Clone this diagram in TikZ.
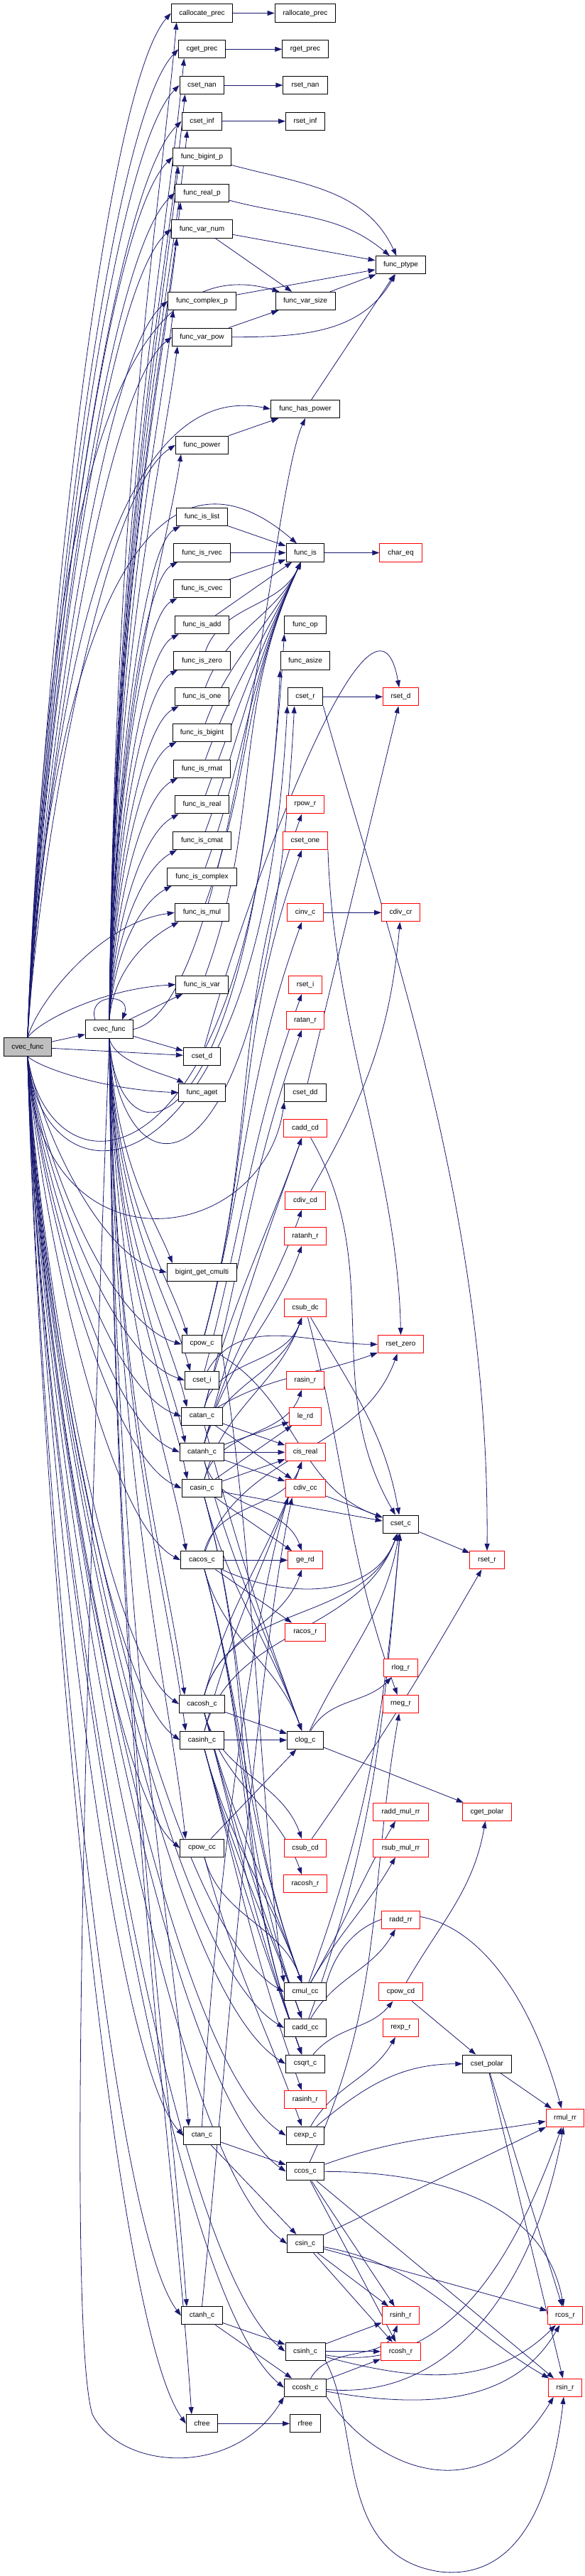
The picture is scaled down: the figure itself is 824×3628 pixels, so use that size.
\documentclass[tikz,border=0pt]{standalone}
\usepackage{fontspec}
\setmainfont{Liberation Sans}
\usetikzlibrary{arrows.meta,calc}
\pgfdeclarelayer{bg}
\pgfsetlayers{bg,main}
\definecolor{ecol}{HTML}{191970}
\definecolor{rcol}{HTML}{FF0000}
\definecolor{gcol}{HTML}{BFBFBF}
\tikzset{
 nd/.style={draw=black, line width=1pt, fill=white, minimum height=25.3pt, inner sep=0pt, font=\fontsize{10}{12}\selectfont, text=black},
 rnd/.style={nd, draw=rcol},
 edg/.style={draw=ecol, line width=0.8pt, -{Triangle[length=10pt,width=7pt]}},
 eu/.style={out=75,in=250},
 ed/.style={out=-75,in=110},
}
\newcommand\edgeRU[1]{\draw[edg] let \p1=(R.north), \p2=(#1.west) in (\p1) .. controls (\x1+15pt, {\y1+0.3*(\y2-(\y1))}) and ({\x2-0.5*(\x2-(\x1))}, {\y2-0.08*(\y2-(\y1))}) .. (\p2);}
\newcommand\edgeVU[1]{\draw[edg] let \p1=(V.north), \p2=($(#1.south west)+(8,0)$) in (\p1) .. controls (\x1+8pt, {\y1+0.55*(\y2-(\y1))}) and (\x2-25pt, {\y2-0.2*(\y2-(\y1))}) .. (\p2);}
\newcommand\edgeVB[1]{\draw[edg] let \p1=(V.north), \p2=($(#1.south west)+(6,0)$) in (\p1) .. controls (\x1+5pt, {\y1+0.45*(\y2-(\y1))}) and ({\x2-0.55*(\x2-(\x1))}, {\y2-0.3*(\x2-(\x1))}) .. (\p2);}
\newcommand\edgeRD[1]{\draw[edg] let \p1=(R.south), \p2=(#1.west) in (\p1) .. controls (\x1+15pt, {\y1-0.3*((\y1)-(\y2))}) and ({\x2-0.5*(\x2-(\x1))}, {\y2+0.08*((\y1)-(\y2))}) .. (\p2);}
\newcommand\edgeVD[1]{\draw[edg] let \p1=(V.south), \p2=($(#1.north west)+(8,0)$) in (\p1) .. controls (\x1+8pt, {\y1-0.55*((\y1)-(\y2))}) and (\x2-25pt, {\y2+0.2*((\y1)-(\y2))}) .. (\p2);}
\begin{document}
\begin{tikzpicture}[x=1pt,y=-1pt]
\useasboundingbox (0,0) rectangle (824,3628);
% ---------- nodes ----------
\node[nd,minimum width=86.6] (callocateprec) at (284.5,18.5) {callocate\_prec};
\node[nd,minimum width=85.6] (rallocateprec) at (430,18.5) {rallocate\_prec};
\node[nd,minimum width=65.5] (cgetprec) at (284.5,69.3) {cget\_prec};
\node[nd,minimum width=64.4] (rgetprec) at (430,69.3) {rget\_prec};
\node[nd,minimum width=62.9] (csetnan) at (284.5,120) {cset\_nan};
\node[nd,minimum width=62.3] (rsetnan) at (430,120) {rset\_nan};
\node[nd,minimum width=56.5] (csetinf) at (284.5,170.7) {cset\_inf};
\node[nd,minimum width=54.9] (rsetinf) at (430,170.7) {rset\_inf};
\node[nd,minimum width=81.9] (funcbigintp) at (284.5,221.3) {func\_bigint\_p};
\node[nd,minimum width=75.5] (funcrealp) at (284.5,271.8) {func\_real\_p};
\node[nd,minimum width=85.6] (funcvarnum) at (284.5,322.5) {func\_var\_num};
\node[nd,minimum width=70.8] (funcptype) at (564.5,373.3) {func\_ptype};
\node[nd,minimum width=95.6] (funccomplexp) at (284.5,424) {func\_complex\_p};
\node[nd,minimum width=84] (funcvarsize) at (430,424) {func\_var\_size};
\node[nd,minimum width=84] (funcvarpow) at (284.5,474.7) {func\_var\_pow};
\node[nd,minimum width=97.2] (funchaspower) at (430,576) {func\_has\_power};
\node[nd,minimum width=74] (funcpower) at (284.5,626.7) {func\_power};
\node[nd,minimum width=72.4] (funcislist) at (284.5,728) {func\_is\_list};
\node[nd,minimum width=79.8] (funcisrvec) at (284.5,778.5) {func\_is\_rvec};
\node[nd,minimum width=53.9] (funcis) at (430,778.5) {func\_is};
\node[rnd,minimum width=59.2] (chareq) at (564.5,778.5) {char\_eq};
\node[nd,minimum width=80.8] (funciscvec) at (284.5,829.3) {func\_is\_cvec};
\node[nd,minimum width=76.6] (funcisadd) at (284.5,880) {func\_is\_add};
\node[nd,minimum width=58.1] (funcop) at (430,880) {func\_op};
\node[nd,minimum width=79.8] (funciszero) at (284.5,930.5) {func\_is\_zero};
\node[nd,minimum width=69.7] (funcasize) at (430,930.5) {func\_asize};
\node[nd,minimum width=76.6] (funcisone) at (284.5,981.3) {func\_is\_one};
\node[nd,minimum width=49.7] (csetr) at (430,981.3) {cset\_r};
\node[rnd,minimum width=49.7] (rsetd) at (564.5,981.3) {rset\_d};
\node[nd,minimum width=82.9] (funcisbigint) at (284.5,1031.8) {func\_is\_bigint};
\node[nd,minimum width=79.8] (funcisrmat) at (284.5,1082.7) {func\_is\_rmat};
\node[nd,minimum width=76.6] (funcisreal) at (284.5,1133.3) {func\_is\_real};
\node[rnd,minimum width=52.8] (rpowr) at (430,1133.3) {rpow\_r};
\node[nd,minimum width=81.9] (funciscmat) at (284.5,1184) {func\_is\_cmat};
\node[rnd,minimum width=62.9] (csetone) at (430,1184) {cset\_one};
\node[nd,minimum width=97.2] (funciscomplex) at (284.5,1234.7) {func\_is\_complex};
\node[nd,minimum width=76.6] (funcismul) at (284.5,1285.3) {func\_is\_mul};
\node[rnd,minimum width=50.7] (cinvc) at (430,1285.3) {cinv\_c};
\node[rnd,minimum width=53.9] (cdivcr) at (564.5,1285.3) {cdiv\_cr};
\node[nd,minimum width=73.4] (funcisvar) at (284.5,1386.7) {func\_is\_var};
\node[rnd,minimum width=46.5] (rseti) at (430,1386.7) {rset\_i};
\node[rnd,minimum width=53.9] (ratanr) at (430,1437.3) {ratan\_r};
\node[nd,minimum width=67.1] (V) at (154,1449.5) {cvec\_func};
\node[nd,fill=gcol,minimum width=67.1] (R) at (38.8,1474.5) {cvec\_func};
\node[nd,minimum width=52.3] (csetd) at (284.5,1487.7) {cset\_d};
\node[nd,minimum width=65.5] (funcaget) at (284.5,1538.7) {func\_aget};
\node[nd,minimum width=58.1] (csetdd) at (430,1538.7) {cset\_dd};
\node[rnd,minimum width=60.2] (caddcd) at (430,1589.3) {cadd\_cd};
\node[rnd,minimum width=56.5] (cdivcd) at (430,1690.7) {cdiv\_cd};
\node[rnd,minimum width=59.2] (ratanhr) at (430,1741.3) {ratanh\_r};
\node[nd,minimum width=98.3] (bigintgetcmulti) at (284.5,1792) {bigint\_get\_cmulti};
\node[rnd,minimum width=59.2] (csubdc) at (430,1842.3) {csub\_dc};
\node[nd,minimum width=56.5] (cpowc) at (284.5,1893.3) {cpow\_c};
\node[rnd,minimum width=64.4] (rsetzero) at (564.5,1893.3) {rset\_zero};
\node[nd,minimum width=48.1] (cseti) at (284.5,1944) {cset\_i};
\node[rnd,minimum width=52.3] (rasinr) at (430,1944) {rasin\_r};
\node[nd,minimum width=57.6] (catanc) at (284.5,1994.7) {catan\_c};
\node[rnd,minimum width=44.4] (lerd) at (430,1994.7) {le\_rd};
\node[nd,minimum width=62.3] (catanhc) at (284.5,2045.3) {catanh\_c};
\node[rnd,minimum width=56] (cisreal) at (430,2045.3) {cis\_real};
\node[nd,minimum width=56.5] (casinc) at (284.5,2096) {casin\_c};
\node[rnd,minimum width=56] (cdivcc) at (430,2096) {cdiv\_cc};
\node[nd,minimum width=50.7] (csetc) at (564.5,2146.7) {cset\_c};
\node[nd,minimum width=59.7] (cacosc) at (284.5,2197.3) {cacos\_c};
\node[rnd,minimum width=48.6] (gerd) at (430,2197.3) {ge\_rd};
\node[rnd,minimum width=48.1] (rsetr) at (686,2197.3) {rset\_r};
\node[rnd,minimum width=56.5] (racosr) at (430,2298.7) {racos\_r};
\node[rnd,minimum width=48.1] (rlogr) at (564.5,2349.3) {rlog\_r};
\node[nd,minimum width=63.9] (cacoshc) at (284.5,2400) {cacosh\_c};
\node[rnd,minimum width=50.7] (rnegr) at (564.5,2400) {rneg\_r};
\node[nd,minimum width=61.3] (casinhc) at (284.5,2450.7) {casinh\_c};
\node[nd,minimum width=50.7] (clogc) at (430,2450.7) {clog\_c};
\node[rnd,minimum width=77.1] (raddmulrr) at (564.5,2551.8) {radd\_mul\_rr};
\node[rnd,minimum width=69.2] (cgetpolar) at (686,2551.8) {cget\_polar};
\node[nd,minimum width=61.3] (cpowcc) at (284.5,2602.7) {cpow\_cc};
\node[rnd,minimum width=59.2] (csubcd) at (430,2602.7) {csub\_cd};
\node[rnd,minimum width=77.1] (rsubmulrr) at (564.5,2602.7) {rsub\_mul\_rr};
\node[rnd,minimum width=61.3] (racoshr) at (430,2653.3) {racosh\_r};
\node[rnd,minimum width=54.9] (raddrr) at (564.5,2704) {radd\_rr};
\node[nd,minimum width=59.2] (cmulcc) at (430,2805.3) {cmul\_cc};
\node[rnd,minimum width=61.3] (cpowcd) at (564.5,2805.3) {cpow\_cd};
\node[nd,minimum width=59.2] (caddcc) at (430,2856) {cadd\_cc};
\node[rnd,minimum width=50.7] (rexpr) at (564.5,2856) {rexp\_r};
\node[nd,minimum width=54.9] (csqrtc) at (430,2906.7) {csqrt\_c};
\node[nd,minimum width=68.1] (csetpolar) at (686,2906.7) {cset\_polar};
\node[rnd,minimum width=59.2] (rasinhr) at (430,2957.3) {rasinh\_r};
\node[rnd,minimum width=53.9] (rmulrr) at (796,2982.7) {rmul\_rr};
\node[nd,minimum width=52.3] (ctanc) at (284.5,3007.7) {ctan\_c};
\node[nd,minimum width=53.9] (cexpc) at (430,3007.7) {cexp\_c};
\node[nd,minimum width=53.9] (ccosc) at (430,3058.3) {ccos\_c};
\node[nd,minimum width=50.7] (csinc) at (430,3160) {csin\_c};
\node[nd,minimum width=58.1] (ctanhc) at (284.5,3261.3) {ctanh\_c};
\node[rnd,minimum width=52.8] (rsinhr) at (564.5,3261.3) {rsinh\_r};
\node[rnd,minimum width=49.7] (rcosr) at (796,3261.3) {rcos\_r};
\node[nd,minimum width=56] (csinhc) at (430,3311.7) {csinh\_c};
\node[rnd,minimum width=56] (rcoshr) at (564.5,3311.7) {rcosh\_r};
\node[nd,minimum width=59.2] (ccoshc) at (430,3362.7) {ccosh\_c};
\node[rnd,minimum width=47.5] (rsinr) at (796,3362.7) {rsin\_r};
\node[nd,minimum width=44.4] (cfree) at (284.5,3413.3) {cfree};
\node[nd,minimum width=42.8] (rfree) at (430,3413.3) {rfree};
% ---------- edges ----------
\begin{pgfonlayer}{bg}
% root / cvec_func to upper group
\foreach \t in {callocateprec,cgetprec,csetnan,csetinf,funcbigintp,funcrealp,funcvarnum,funccomplexp,funcvarpow,funcpower} {\edgeRU{\t}\edgeVU{\t}}
\foreach \t in {funcislist,funcisrvec,funciscvec,funcisadd,funciszero,funcisone,funcisbigint,funcisrmat,funcisreal,funciscmat,funciscomplex,funcismul} {\edgeVB{\t}}
\edgeRU{funcismul}
\edgeRU{funcisvar}
\draw[edg] (V) -- (funcisvar);
\draw[edg] (R) -- (V);
\draw[edg] ($(V.north)+(-20,0)$) .. controls (122,1398) and (186,1398) .. ($(V.north)+(18,0)$);
\draw[edg] (R) -- (csetd);
\draw[edg] (V) -- (csetd);
% root / cvec_func to lower group
\foreach \t in {funcaget,bigintgetcmulti,cpowc,cseti,catanc,catanhc,casinc,cacosc,cacoshc,casinhc,cpowcc,ctanc,ctanhc,cfree} {\edgeRD{\t}\edgeVD{\t}}
\foreach \t in {cmulcc,caddcc,csqrtc,cexpc,ccosc,csinc,csinhc,ccoshc} {\edgeRD{\t}}
\draw[edg] (V.south) .. controls (110,2600) and (100,3300) .. (130,3400) .. controls (170,3480) and (330,3490) .. (ccoshc.south west);
% root / cvec_func direct to column 4
\draw[edg] (R.north) .. controls (60,900) and (120,330) .. ($(funcvarsize.north west)+(6,0)$);
\draw[edg] (R.north) .. controls (70,1000) and (150,530) .. (funchaspower.west);
\draw[edg] (V.east) .. controls (330,1420) and (380,700) .. (funchaspower.south);
\draw[edg] (R.north) .. controls (60,1000) and (180,560) .. ($(funcis.north)+(-12,0)$);
\draw[edg] (V.south) .. controls (165,1650) and (355,1650) .. (funcop.south west);
\draw[edg] (R.south) .. controls (70,1700) and (360,1690) .. (funcasize.south west);
\draw[edg] (R.south) .. controls (60,1720) and (370,1700) .. (csetr.south west);
\draw[edg] (V.south) .. controls (170,1700) and (378,1720) .. ($(csetr.south west)+(10,0)$);
\draw[edg] (R.south) .. controls (50,1800) and (370,1760) .. (csetdd.south west);
% upper column-3 callees
\draw[edg] (callocateprec) -- (rallocateprec);
\draw[edg] (cgetprec) -- (rgetprec);
\draw[edg] (csetnan) -- (rsetnan);
\draw[edg] (csetinf) -- (rsetinf);
\draw[edg] (funcbigintp) to[out=-15,in=115] (funcptype);
\draw[edg] (funcrealp) to[out=-15,in=140] (funcptype);
\draw[edg] (funcvarnum) -- (funcptype);
\draw[edg] (funcvarnum) -- (funcvarsize);
\draw[edg] (funccomplexp) -- (funcptype);
\draw[edg] (funcvarpow) -- (funcvarsize);
\draw[edg] (funcvarpow) to[out=0,in=240] (funcptype);
\draw[edg] (funcvarsize) -- (funcptype);
\draw[edg] (funchaspower) -- (funcptype);
\draw[edg] (funcpower) -- (funchaspower);
\foreach \t in {funcislist,funcisrvec,funciscvec,funcisadd} {\draw[edg] (\t) -- (funcis);}
\foreach \t in {funciszero,funcisone,funcisbigint,funcisrmat,funcisreal,funciscmat,funciscomplex,funcismul,funcisvar} {\draw[edg] (\t) to[out=70,in=245] (funcis);}
\draw[edg] (funcis) -- (chareq);
% cset family
\draw[edg] (csetd) to[out=75,in=100,looseness=0.9] (rsetd);
\draw[edg] (csetr) -- (rsetd);
\draw[edg] (csetr.south east) .. controls (540,1300) and (690,1700) .. (rsetr.north);
\draw[edg] (csetdd) -- (rsetd);
\draw[edg] (cinvc) -- (cdivcr);
\draw[edg] (cdivcd) to[out=60,in=265] (cdivcr);
\draw[edg] (csetone.south east) .. controls (470,1450) and (560,1650) .. (rsetzero.north);
\draw[edg] (cseti) to[eu] (rseti);
\draw[edg] (cseti) to[out=60,in=180] (rsetzero);
% cpow_c
\draw[edg] (cpowc) to[eu] (csetone);
\draw[edg] (cpowc) to[eu] (cinvc);
\draw[edg] (cpowc) to[eu] (rpowr);
\draw[edg] (cpowc.south east) .. controls (360,2200) and (370,2600) .. (cmulcc.north west);
\draw[edg] (cpowc) to[out=-30,in=160] (csetc);
% catan_c
\draw[edg] (catanc) to[eu] (ratanr);
\draw[edg] (catanc) to[eu] (caddcd);
\draw[edg] (catanc) to[eu] (csubdc);
\draw[edg] (catanc) -- (cisreal);
\draw[edg] (catanc) -- (cdivcc);
\draw[edg] (catanc) to[ed] (clogc);
\draw[edg] (catanc) to[out=30,in=200] (rsetzero);
% catanh_c
\draw[edg] (catanhc) to[eu] (ratanhr);
\draw[edg] (catanhc) to[eu] (cdivcd);
\draw[edg] (catanhc) to[eu] (caddcd);
\draw[edg] (catanhc) to[eu] (csubdc);
\draw[edg] (catanhc) -- (lerd);
\draw[edg] (catanhc) -- (cisreal);
\draw[edg] (catanhc) -- (cdivcc);
\draw[edg] (catanhc) to[ed] (gerd);
\draw[edg] (catanhc) to[ed] (clogc);
% casin_c
\draw[edg] (casinc) to[eu] (rasinr);
\draw[edg] (casinc) -- (lerd);
\draw[edg] (casinc) -- (cisreal);
\draw[edg] (casinc) -- (gerd);
\draw[edg] (casinc) -- (csetc);
\draw[edg] (casinc) to[ed] (csqrtc);
\draw[edg] (casinc) to[ed] (clogc);
\draw[edg] (casinc) to[ed] (cmulcc);
\draw[edg] (casinc) to[eu] (csubdc);
% cacos_c
\draw[edg] (cacosc) -- (gerd);
\draw[edg] (cacosc) -- (racosr);
\draw[edg] (cacosc) to[eu] (cisreal);
\draw[edg] (cacosc) to[out=-25,in=250] (csetc);
\draw[edg] (cacosc) to[ed] (csqrtc);
\draw[edg] (cacosc) to[ed] (clogc);
\draw[edg] (cacosc) to[ed] (cmulcc);
\draw[edg] (cacosc) to[ed] (caddcc);
\draw[edg] (cacosc) to[out=70,in=250] (rsetzero);
% cacosh_c
\draw[edg] (cacoshc) to[eu] (gerd);
\draw[edg] (cacoshc) to[eu] (cisreal);
\draw[edg] (cacoshc) -- (clogc);
\draw[edg] (cacoshc) to[ed] (racoshr);
\draw[edg] (cacoshc) to[ed] (csqrtc);
\draw[edg] (cacoshc) to[ed] (cmulcc);
\draw[edg] (cacoshc) to[ed] (caddcc);
\draw[edg] (cacoshc) to[ed] (csubcd);
\draw[edg] (cacoshc) to[eu] (csetc);
% casinh_c
\draw[edg] (casinhc) -- (clogc);
\draw[edg] (casinhc) to[ed] (rasinhr);
\draw[edg] (casinhc) to[ed] (csqrtc);
\draw[edg] (casinhc) to[ed] (cmulcc);
\draw[edg] (casinhc) to[ed] (caddcc);
\draw[edg] (casinhc) to[eu] (cisreal);
\draw[edg] (casinhc) to[eu] (csetc);
% cpow_cc, ctan_c, ctanh_c, cfree
\draw[edg] (cpowcc) -- (clogc);
\draw[edg] (cpowcc) to[ed] (cmulcc);
\draw[edg] (cpowcc) to[ed] (cexpc);
\draw[edg] (ctanc) -- (ccosc);
\draw[edg] (ctanc) -- (csinc);
\draw[edg] (ctanc.north) .. controls (300,2700) and (350,2300) .. ($(cdivcc.south west)+(4,0)$);
\draw[edg] (ctanhc) -- (csinhc);
\draw[edg] (ctanhc) -- (ccoshc);
\draw[edg] (ctanhc.north) .. controls (310,3000) and (360,2350) .. ($(cdivcc.south west)+(10,0)$);
\draw[edg] (cfree) -- (rfree);
% column 4 onwards
\draw[edg] (clogc) -- (cgetpolar);
\draw[edg] (clogc) to[out=60,in=225] (rlogr);
\draw[edg] (clogc) to[out=65,in=260] (csetc);
\draw[edg] (cmulcc) to[out=60,in=240] (raddmulrr);
\draw[edg] (cmulcc) to[out=60,in=240] (rsubmulrr);
\draw[edg] (cmulcc) to[out=70,in=265] (csetc);
\draw[edg] (cmulcc.north east) .. controls (500,2650) and (700,2640) .. ($(rmulrr.north)+(-5,0)$);
\draw[edg] (caddcc) to[out=60,in=240] (raddrr);
\draw[edg] (caddcc) to[out=70,in=265] (csetc);
\draw[edg] (csqrtc) to[out=50,in=230] (cpowcd);
\draw[edg] (cpowcd) -- (csetpolar);
\draw[edg] (cpowcd) to[out=60,in=260] (cgetpolar);
\draw[edg] (cexpc) to[out=60,in=240] (rexpr);
\draw[edg] (cexpc) to[out=40,in=180] (csetpolar);
\draw[edg] (csetpolar) -- (rmulrr);
\draw[edg] (csetpolar) -- (rcosr);
\draw[edg] (csetpolar) -- (rsinr);
\draw[edg] (cdivcc) -- (csetc);
\draw[edg] (csetc) -- (rsetr);
\draw[edg] (caddcd) to[out=-60,in=120] (csetc);
\draw[edg] (csubdc) to[out=-60,in=100] (csetc);
\draw[edg] (csubdc) to[ed] (rnegr);
\draw[edg] (csubcd) to[out=55,in=240] (rsetr);
\draw[edg] (ccosc) to[out=65,in=260] (rnegr);
% trig
\draw[edg] (ccosc) to[out=0,in=100] (rcosr);
\draw[edg] (ccosc) -- (rsinr);
\draw[edg] (ccosc) -- (rsinhr);
\draw[edg] (ccosc) -- (rcoshr);
\draw[edg] (ccosc) to[out=20,in=190] (rmulrr);
\draw[edg] (csinc) -- (rsinhr);
\draw[edg] (csinc) -- (rcoshr);
\draw[edg] (csinc) -- (rcosr);
\draw[edg] (csinc) -- (rmulrr);
\draw[edg] (csinc) to[out=-10,in=150] (rsinr);
\draw[edg] (csinhc) -- (rcoshr);
\draw[edg] (csinhc) -- (rsinhr);
\draw[edg] (csinhc.south east) .. controls (510,3420) and (470,3600) .. (620,3622) .. controls (740,3635) and (780,3500) .. ($(rsinr.south)+(-2,0)$);
\draw[edg] (csinhc) to[out=-15,in=225] (rcosr);
\draw[edg] (csinhc) to[out=-10,in=250] (rmulrr);
\draw[edg] (ccoshc) -- (rcoshr);
\draw[edg] (ccoshc) to[out=60,in=250] (rsinhr);
\draw[edg] (ccoshc.south east) .. controls (530,3480) and (680,3540) .. ($(rsinr.south west)+(8,0)$);
\draw[edg] (ccoshc) to[out=-10,in=240] (rcosr);
\draw[edg] (ccoshc) to[out=-5,in=260] (rmulrr);
\end{pgfonlayer}
\end{tikzpicture}
\end{document}
